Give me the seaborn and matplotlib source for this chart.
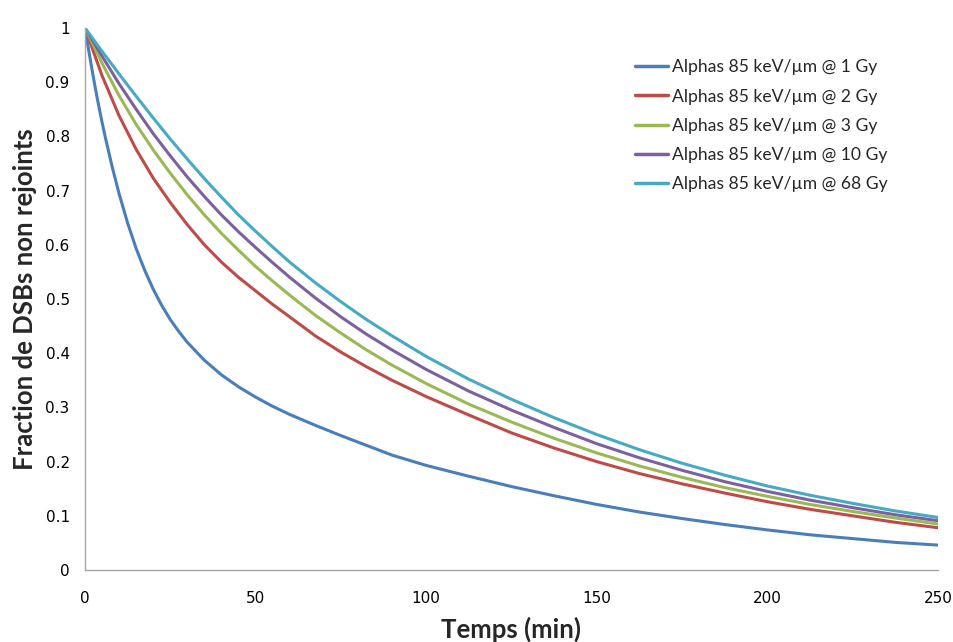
import pandas as pd
import numpy as np
import seaborn as sns
import matplotlib.pyplot as plt
from matplotlib.ticker import FuncFormatter

# time points (min); the 1 Gy curve is steeper so it gets a finer grid
temps_1gy = [0, 1, 2, 3, 4, 5, 6, 8, 10, 12.5, 15, 17.5, 20, 22.5, 25, 27.5, 30, 35, 40, 45,
             50, 55, 60, 67.5, 75, 82.5, 90, 100, 112.5, 125, 137.5, 150, 162.5, 175, 187.5,
             200, 212.5, 225, 237.5, 250]
temps = [0, 5, 10, 15, 20, 25, 30, 35, 40, 45, 50, 55, 60, 67.5, 75, 82.5, 90, 100, 112.5, 125,
         137.5, 150, 162.5, 175, 187.5, 200, 212.5, 225, 237.5, 250]

# fraction de DSBs non rejoints
gy1 = [1, 0.962, 0.925, 0.89, 0.857, 0.826, 0.797, 0.743, 0.694, 0.64,
       0.593, 0.553, 0.518, 0.488, 0.462, 0.44, 0.42, 0.387, 0.36, 0.338,
       0.319, 0.302, 0.287, 0.267, 0.248, 0.23, 0.212, 0.193, 0.173, 0.154,
       0.137, 0.121, 0.107, 0.095, 0.084, 0.074, 0.065, 0.058, 0.051, 0.046]
gy2 = [1, 0.912, 0.838, 0.776, 0.723, 0.678, 0.637, 0.6, 0.568, 0.54,
       0.515, 0.49, 0.467, 0.432, 0.402, 0.375, 0.35, 0.32, 0.286, 0.253,
       0.225, 0.2, 0.178, 0.159, 0.142, 0.126, 0.112, 0.1, 0.088, 0.078]
gy3 = [1, 0.935, 0.875, 0.822, 0.775, 0.732, 0.692, 0.655, 0.621, 0.59,
       0.56, 0.533, 0.507, 0.47, 0.437, 0.406, 0.378, 0.344, 0.306, 0.273,
       0.243, 0.216, 0.192, 0.171, 0.152, 0.136, 0.121, 0.108, 0.096, 0.085]
gy10 = [1, 0.948, 0.897, 0.85, 0.805, 0.764, 0.725, 0.689, 0.655, 0.624,
        0.595, 0.567, 0.54, 0.502, 0.467, 0.435, 0.406, 0.37, 0.33, 0.295,
        0.263, 0.233, 0.207, 0.184, 0.163, 0.145, 0.129, 0.115, 0.102, 0.091]
gy68 = [1, 0.957, 0.915, 0.874, 0.834, 0.795, 0.758, 0.722, 0.688, 0.655,
        0.625, 0.596, 0.568, 0.53, 0.495, 0.462, 0.432, 0.394, 0.352, 0.315,
        0.281, 0.25, 0.222, 0.197, 0.175, 0.155, 0.138, 0.123, 0.109, 0.097]

labels = ['Alphas 85 keV/µm @ 1 Gy', 'Alphas 85 keV/µm @ 2 Gy', 'Alphas 85 keV/µm @ 3 Gy',
          'Alphas 85 keV/µm @ 10 Gy', 'Alphas 85 keV/µm @ 68 Gy']
colors = ['#4A7EBB', '#BE4B48', '#98B954', '#7D60A0', '#46AAC5']

series = [(temps_1gy, gy1), (temps, gy2), (temps, gy3), (temps, gy10), (temps, gy68)]
frames = []
for lab, (tt, vals) in zip(labels, series):
    frames.append(pd.DataFrame({'t': tt, 'f': vals, 'serie': lab}))
df = pd.concat(frames)

sns.set_style('white')
plt.rcParams['font.family'] = ['DejaVu Sans']

fig = plt.figure(figsize=(9.54, 6.42), dpi=100)
ax = fig.add_axes([0.0891, 0.1121, 0.8941, 0.8443])

sns.lineplot(data=df, x='t', y='f', hue='serie', hue_order=labels, palette=colors,
             linewidth=2.2, ax=ax)

ax.set_xlim(0, 250)
ax.set_ylim(0, 1)
ax.set_xticks(np.arange(0, 251, 50))
ax.set_yticks(np.round(np.arange(0, 1.01, 0.1), 1))
ax.yaxis.set_major_formatter(FuncFormatter(lambda v, p: '%g' % v))

for s in ['top', 'right']:
    ax.spines[s].set_visible(False)
for s in ['left', 'bottom']:
    ax.spines[s].set_color('#A6A6A6')
    ax.spines[s].set_linewidth(1)
ax.tick_params(axis='both', direction='out', length=5, width=1, color='#A6A6A6',
               labelsize=11, labelcolor='black', pad=6)
ax.tick_params(axis='x', pad=10)

ax.set_xlabel('Temps (min)', fontsize=18.5, fontweight='bold', family='Lato', labelpad=8)
ax.set_ylabel('Fraction de DSBs non rejoints', fontsize=18.5, fontweight='bold', family='Lato',
              labelpad=6)

leg = ax.legend(loc='upper left', bbox_to_anchor=(0.649, 0.932), bbox_transform=fig.transFigure,
                frameon=False, prop={'family': 'Lato', 'size': 12.6}, handlelength=1.9,
                handletextpad=0.2, labelspacing=0.75)
for line in leg.get_lines():
    line.set_linewidth(2.5)

plt.savefig('out.png', dpi=100)
